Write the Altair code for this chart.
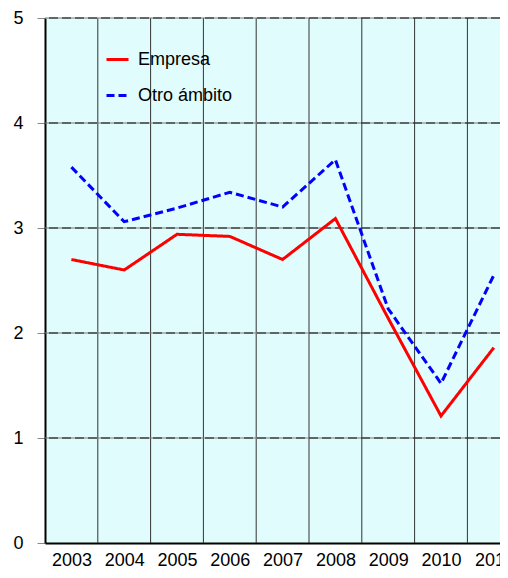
import altair as alt
import pandas as pd

years = [2003, 2004, 2005, 2006, 2007, 2008, 2009, 2010, 2011]
empresa = [2.70, 2.60, 2.94, 2.92, 2.70, 3.09, 2.14, 1.21, 1.86]
otro = [3.58, 3.06, 3.19, 3.34, 3.20, 3.65, 2.23, 1.52, 2.55]
series_names = ["Empresa", "Otro ámbito"]
y_ticks = [0, 1, 2, 3, 4, 5]

rows = []
for yr, a, b in zip(years, empresa, otro):
    rows.append({"year": yr, "serie": series_names[0], "value": a})
    rows.append({"year": yr, "serie": series_names[1], "value": b})
df = pd.DataFrame(rows)

bounds = pd.DataFrame({"b": [y + 0.5 for y in years[:-1]]})
hgrid = pd.DataFrame({"v": y_ticks[1:]})

PW, PH = 455, 525
x_scale = alt.Scale(domain=[years[0] - 0.5, years[0] - 0.5 + PW / 52.8], nice=False, zero=False)
y_scale = alt.Scale(domain=[0, 5], nice=False)

vgrid = alt.Chart(bounds).mark_rule(color="#333333", strokeWidth=1).encode(
    x=alt.X("b:Q", scale=x_scale)
)
hgrid_base = alt.Chart(hgrid).mark_rule(color="#7a7a7a", strokeWidth=1).encode(
    y=alt.Y("v:Q", scale=y_scale)
)
hgrid_dash = alt.Chart(hgrid).mark_rule(color="#111111", strokeWidth=1, strokeDash=[9, 4]).encode(
    y=alt.Y("v:Q", scale=y_scale)
)

legend = alt.Legend(title=None, orient="none", legendX=60, legendY=29,
                    symbolType="stroke", symbolSize=484, symbolStrokeWidth=3,
                    labelFontSize=18, labelFont="Liberation Sans",
                    labelColor="black", labelOffset=8, rowPadding=14)

lines = alt.Chart(df).mark_line(strokeWidth=3).encode(
    x=alt.X("year:Q", scale=x_scale, title=None,
            axis=alt.Axis(values=years, format="d", ticks=False, grid=False,
                          domainColor="black", domainWidth=2, labelFlush=False,
                          labelPadding=8, labelFontSize=18, labelColor="black",
                          labelFont="Liberation Sans", labelOverlap=False)),
    y=alt.Y("value:Q", scale=y_scale, title=None,
            axis=alt.Axis(values=y_ticks, format="d", grid=False, domainColor="black", domainWidth=2,
                          tickColor="#888888", tickSize=8, labelPadding=14,
                          labelFontSize=18, labelColor="black", labelFont="Liberation Sans")),
    color=alt.Color("serie:N", scale=alt.Scale(domain=series_names, range=["#ff0000", "#0000ff"]),
                    legend=legend),
    strokeDash=alt.StrokeDash("serie:N", scale=alt.Scale(domain=series_names, range=[[1, 0], [8, 4]]),
                              legend=legend),
)

chart = alt.layer(vgrid, hgrid_base, hgrid_dash, lines).properties(
    width=PW, height=PH,
    autosize=alt.AutoSizeParams(type="none"),
    padding={"left": 37, "top": 10, "right": 0, "bottom": 27},
    background="white",
).configure_view(fill="#e0fcfc", stroke=None)

chart.save("out.html", embed_options={"renderer": "svg", "actions": False})
